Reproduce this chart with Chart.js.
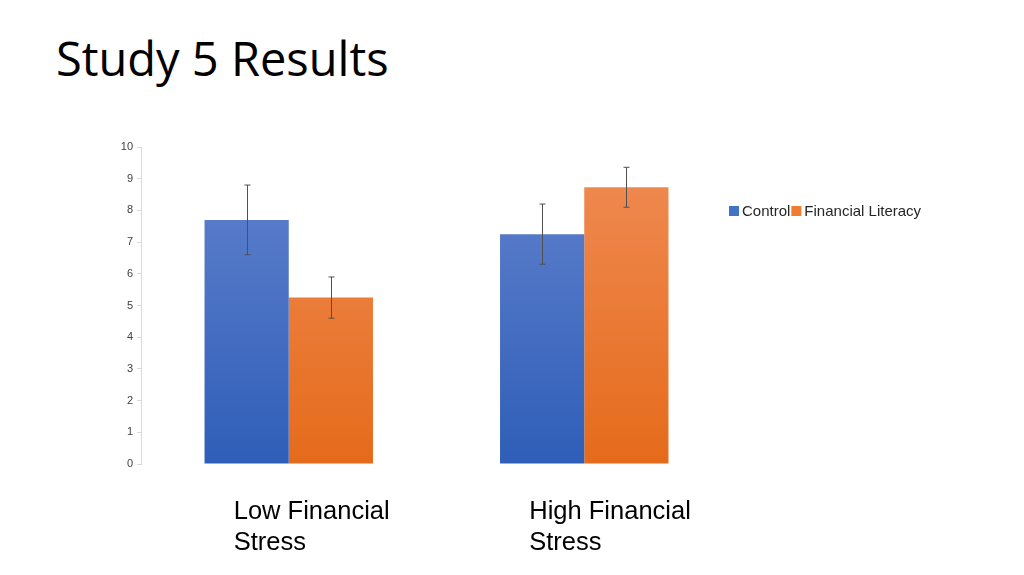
<!DOCTYPE html>
<html lang="en-US">
<head>
	<meta charset="utf-8">
	<title>Study 5 Results</title>
	<script src="https://cdn.jsdelivr.net/npm/chart.js@4/dist/chart.umd.min.js"></script>
	<style>
		html, body { margin: 0; padding: 0; background: #fff; }
		body { width: 1024px; height: 575px; position: relative; overflow: hidden; }
		.title { position: absolute; left: 56px; top: 26px; margin: 0; font: 400 47px "Open Sans", sans-serif; color: #000; }
		.wrapper { position: absolute; left: 0; top: 0; width: 1024px; height: 575px; }
	</style>
</head>
<body>
	<h1 class="title">Study 5 Results</h1>
	<div class="wrapper">
		<canvas id="chart-0" width="1024" height="575"></canvas>
	</div>

	<script>
		// values
		var categories = [['Low Financial', 'Stress'], ['High Financial', 'Stress']];
		var controlMeans = [7.7, 7.25];
		var controlErrors = [1.1, 0.95];
		var literacyMeans = [5.25, 8.73];
		var literacyErrors = [0.65, 0.63];
		var yTicks = [0, 1, 2, 3, 4, 5, 6, 7, 8, 9, 10];

		var blue = { top: '#6383ce', bottom: '#2f5eb8', flat: '#4472c4' };
		var orange = { top: '#f08c55', bottom: '#e56b1b', flat: '#ed7d31' };

		function gradient(c) {
			return function(context) {
				var area = context.chart.chartArea;
				if (!area) return c.flat;
				var y0 = context.chart.scales.y.getPixelForValue(0);
				var g = context.chart.ctx.createLinearGradient(0, area.top, 0, y0);
				g.addColorStop(0, c.top);
				g.addColorStop(1, c.bottom);
				return g;
			};
		}

		// whiskers drawn from the error arrays through the y scale
		var errorBars = {
			id: 'errorBars',
			afterDatasetsDraw: function(chart) {
				var ctx = chart.ctx;
				var y = chart.scales.y;
				ctx.save();
				ctx.strokeStyle = '#505050';
				ctx.lineWidth = 1;
				chart.data.datasets.forEach(function(ds, i) {
					var meta = chart.getDatasetMeta(i);
					meta.data.forEach(function(bar, j) {
						var x = Math.round(bar.x) + 0.5;
						var hi = y.getPixelForValue(ds.data[j] + ds.errors[j]);
						var lo = y.getPixelForValue(ds.data[j] - ds.errors[j]);
						ctx.beginPath();
						ctx.moveTo(x, hi); ctx.lineTo(x, lo);
						ctx.moveTo(x - 3, hi); ctx.lineTo(x + 3, hi);
						ctx.moveTo(x - 3, lo); ctx.lineTo(x + 3, lo);
						ctx.stroke();
					});
				});
				ctx.restore();
			}
		};

		// one-row legend to the right of the plot
		var sideLegend = {
			id: 'sideLegend',
			afterDraw: function(chart) {
				var ctx = chart.ctx;
				var x = chart.chartArea.right - 3;
				var yMid = 211;
				ctx.save();
				ctx.font = '15px "Liberation Sans", Arial, sans-serif';
				ctx.textBaseline = 'middle';
				chart.data.datasets.forEach(function(ds) {
					ctx.fillStyle = ds.legendColor;
					ctx.fillRect(x, yMid - 5, 10, 10);
					x += 13;
					ctx.fillStyle = '#262626';
					ctx.fillText(ds.label, x, yMid + 1);
					x += ctx.measureText(ds.label).width + 1;
				});
				ctx.restore();
			}
		};

		var data = {
			labels: categories,
			datasets: [{
				label: 'Control',
				data: controlMeans,
				errors: controlErrors,
				backgroundColor: gradient(blue),
				legendColor: blue.flat
			}, {
				label: 'Financial Literacy',
				data: literacyMeans,
				errors: literacyErrors,
				backgroundColor: gradient(orange),
				legendColor: orange.flat
			}]
		};

		var options = {
			responsive: false,
			animation: false,
			devicePixelRatio: 1,
			layout: {
				padding: { left: 111, right: 292, top: 147, bottom: 0 }
			},
			datasets: {
				bar: { barPercentage: 1, categoryPercentage: 0.57 }
			},
			plugins: {
				legend: { display: false },
				tooltip: { enabled: false }
			},
			scales: {
				x: {
					grid: { display: false, drawTicks: false },
					border: { display: false },
					afterFit: function(scale) { scale.height = 111; },
					ticks: {
						align: 'start',
						labelOffset: -55,
						padding: 33,
						color: '#000',
						font: { family: '"Liberation Sans", Arial, sans-serif', size: 25.5, lineHeight: 1.2 }
					}
				},
				y: {
					min: 0,
					max: 10,
					afterFit: function(scale) { scale.width = 30; },
					afterBuildTicks: function(scale) {
						scale.ticks = yTicks.map(function(v) { return { value: v }; });
					},
					grid: { drawOnChartArea: false, tickLength: 4, color: '#d9d9d9' },
					border: { color: '#d9d9d9' },
					ticks: {
						padding: 4,
						color: '#404040',
						font: { family: '"Liberation Sans", Arial, sans-serif', size: 11 }
					}
				}
			}
		};

		var chart = new Chart('chart-0', {
			type: 'bar',
			data: data,
			options: options,
			plugins: [errorBars, sideLegend]
		});
	</script>
</body>
</html>
